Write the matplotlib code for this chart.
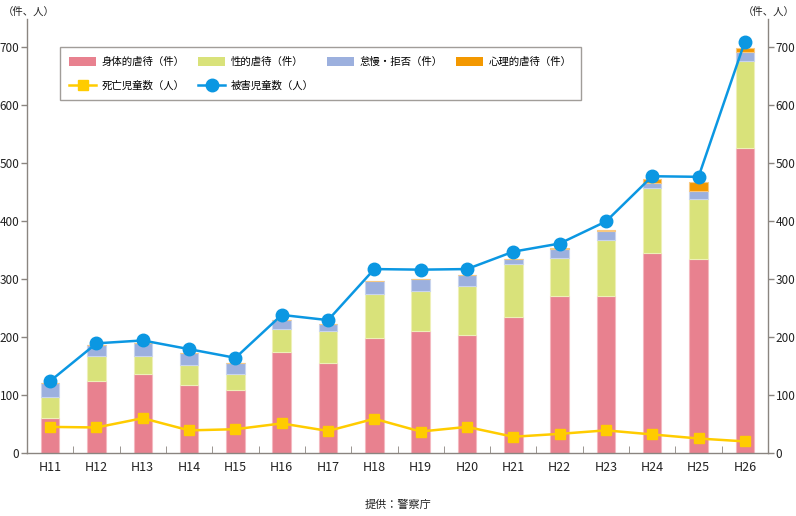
import matplotlib
matplotlib.use("Agg")
import matplotlib.pyplot as plt
from matplotlib.patches import Patch
from matplotlib.lines import Line2D
import numpy as np

plt.rcParams['font.family'] = ['Noto Sans CJK JP', 'DejaVu Sans']

years = ["H11", "H12", "H13", "H14", "H15", "H16", "H17", "H18",
         "H19", "H20", "H21", "H22", "H23", "H24", "H25", "H26"]
physical = [61, 124, 136, 118, 108, 174, 155, 199, 211, 204, 234, 270, 270, 344, 334, 525]
sexual = [35, 44, 32, 34, 29, 40, 56, 75, 69, 83, 91, 66, 97, 112, 103, 150]
neglect = [24, 18, 21, 20, 18, 15, 11, 23, 20, 20, 10, 16, 16, 10, 15, 16]
psych = [0, 0, 0, 0, 0, 0, 0, 0, 0, 0, 0, 2, 1, 6, 15, 7]
deaths = [45, 44, 60, 39, 41, 51, 38, 59, 37, 45, 28, 33, 39, 32, 25, 20]
victims = [124, 189, 194, 179, 164, 238, 229, 317, 316, 317, 347, 361, 399, 477, 476, 709]

c_phys = "#e8818f"
c_sex = "#d9e27a"
c_neg = "#9cb0de"
c_psy = "#f39800"
c_death = "#ffcc00"
c_vict = "#0b97e2"
grey = "#8a8580"
txt = "#222222"

fig = plt.figure(figsize=(7.96, 5.16), dpi=100)
ax = fig.add_axes([27 / 796, 63 / 516, 741 / 796, 434 / 516])

x = np.arange(len(years))
w = 0.4
b1 = np.array(physical)
b2 = b1 + np.array(sexual)
b3 = b2 + np.array(neglect)
ax.bar(x, physical, w, color=c_phys, edgecolor="#f4b8c0", linewidth=0.8, zorder=2)
ax.bar(x, sexual, w, bottom=b1, color=c_sex, edgecolor="#eef0b8", linewidth=0.8, zorder=2)
ax.bar(x, neglect, w, bottom=b2, color=c_neg, edgecolor="#c8d4ee", linewidth=0.8, zorder=2)
ax.bar(x, psych, w, bottom=b3, color=c_psy, edgecolor="#f8c880", linewidth=0.8, zorder=2)

ax.plot(x, deaths, color=c_death, lw=1.8, marker="s", ms=7, zorder=3)
ax.plot(x, victims, color=c_vict, lw=1.8, marker="o", ms=9, zorder=4)

ax.set_xlim(-0.5, len(years) - 0.5)
ax.set_ylim(0, 748)
ax.set_yticks(range(0, 701, 100))
ax.set_xticks(x)
ax.set_xticklabels(years)
ax.set_xticks(np.arange(0.5, len(years) - 1, 1), minor=True)

for s in ["left", "right", "bottom"]:
    ax.spines[s].set_color(grey)
    ax.spines[s].set_linewidth(1.0)
ax.spines["top"].set_visible(False)

ax.tick_params(axis="x", which="major", length=0, pad=6, labelsize=9, colors=txt)
ax.tick_params(axis="x", which="minor", direction="in", length=5, color=grey)
ax.tick_params(axis="y", which="major", direction="out", length=4, width=1, color=grey,
               pad=1.5, labelsize=8.5, labelcolor=txt, right=True, labelright=True)

blank = Patch(facecolor="none", edgecolor="none", label="")
handles = [
    Patch(facecolor=c_phys, label="身体的虐待（件）"),
    Line2D([], [], color=c_death, lw=1.8, marker="s", ms=7, label="死亡児童数（人）"),
    Patch(facecolor=c_sex, label="性的虐待（件）"),
    Line2D([], [], color=c_vict, lw=1.8, marker="o", ms=9, label="被害児童数（人）"),
    Patch(facecolor=c_neg, label="怠慢・拒否（件）"),
    blank,
    Patch(facecolor=c_psy, label="心理的虐待（件）"),
    blank,
]
leg = ax.legend(handles=handles, ncol=4, loc="upper left",
                bbox_to_anchor=(0.0445, 0.935), borderaxespad=0, fontsize=7.5,
                frameon=True, fancybox=False, edgecolor=grey, handlelength=2.6,
                handleheight=0.9, columnspacing=1.3, labelspacing=1.3, borderpad=0.9,
                handletextpad=0.5)
leg.get_frame().set_linewidth(1.0)

fig.text(3 / 796, 1 - 12 / 516, "（件、人）", fontsize=7.5, va="center", ha="left", color=txt)
fig.text(795 / 796, 1 - 12 / 516, "（件、人）", fontsize=7.5, va="center", ha="right", color=txt)
fig.text(398 / 796, 1 - 505 / 516, "提供：警察庁", fontsize=8, va="center", ha="center", color=txt)

fig.savefig("out.png", dpi=100)
